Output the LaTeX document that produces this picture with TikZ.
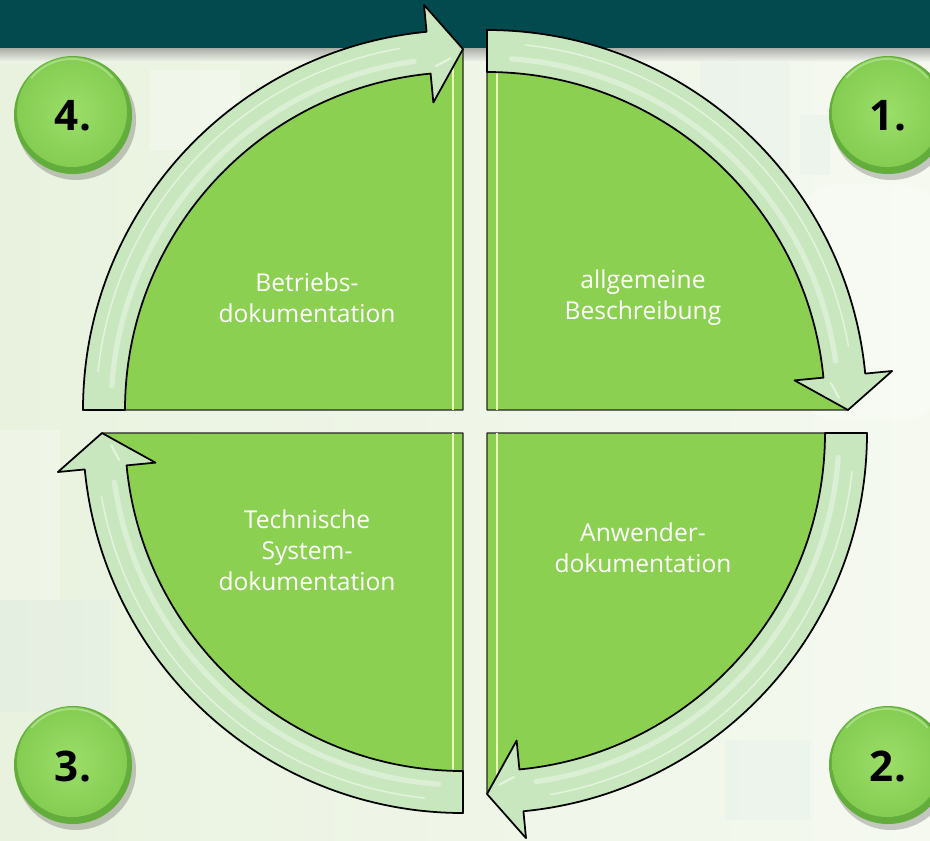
\documentclass[tikz,border=0pt]{standalone}
\usepackage{fontspec}
\setmainfont{Open Sans}
\definecolor{topband}{HTML}{034A4F}
\definecolor{bgL}{HTML}{E9F2DF}
\definecolor{bgR}{HTML}{F5F9F0}
\definecolor{sect}{HTML}{8CD052}
\definecolor{bandfill}{HTML}{C9E7BE}
\definecolor{ballrim}{HTML}{62AD3C}
\definecolor{ballin}{HTML}{9BDE69}
\definecolor{ballout}{HTML}{85CD52}
\definecolor{bevel}{HTML}{E9FBB8}
\definecolor{faintblue}{HTML}{DDEBE8}
\tikzset{
  sectorstyle/.style={fill=sect, draw=black!85, line width=0.8pt},
  bandstyle/.style={fill=bandfill, draw=black, line width=1pt},
  txt/.style={text=white, align=center, font=\fontsize{14}{17.6}\selectfont},
  numtxt/.style={text=black, font=\bfseries\fontsize{24}{28}\selectfont},
  bevelline/.style={draw=bevel, line width=1.4pt},
}
% #1 centre, #2 start angle, #3 bevel stripe x offset, #4 bevel stripe y end
\newcommand\drawsector[4]{%
  \begin{scope}[shift={#1}]
    \path[sectorstyle] (0,0) -- (#2:361) arc[start angle=#2, end angle=#2+90, radius=361] -- cycle;
    \begin{scope}
      \clip (0,0) -- (#2:361) arc[start angle=#2, end angle=#2+90, radius=361] -- cycle;
      \path[bevelline] (#3,0) -- (#3,#4);
    \end{scope}
  \end{scope}}
% #1 centre, #2 start angle
\newcommand\drawband[2]{%
  \begin{scope}[shift={#1}]
    \path[bandstyle] (#2:380) arc[start angle=#2, end angle=#2+84.5, radius=380]
      -- (#2+84.5:407) -- (#2+90:361) -- (#2+84.5:309) -- (#2+84.5:338)
      arc[start angle=#2+84.5, end angle=#2, radius=338] -- cycle;
    \draw[white, opacity=0.35, line width=3pt, line cap=round] (#2+4:352) arc[start angle=#2+4, end angle=#2+82, radius=352];
    \draw[white, opacity=0.5, line width=0.8pt, line cap=round] (#2+6:367) arc[start angle=#2+6, end angle=#2+80, radius=367];
    \draw[white, opacity=0.5, line width=1.2pt, line cap=round] (#2+85.5:345) -- (#2+88:352);
  \end{scope}}
% ball
\newcommand\drawball[4]{% #1 x, #2 y, #3 name, #4 text
  \fill[black, opacity=0.2] (#1+3,#2+5) circle[radius=60];
  \fill[ballrim] (#1,#2) circle[radius=59];
  \shade[inner color=ballin, outer color=ballout] (#1-1,#2-3) circle[radius=55];
  \draw[white, opacity=0.3, line width=1pt] (#1-1,#2-3) ++(-140:53) arc[start angle=-140, end angle=-40, radius=53];
  \node[numtxt] (#3) at (#1,#2+1) {#4};}
\begin{document}
\begin{tikzpicture}[x=0.02cm, y=-0.02cm, line join=round]
  \useasboundingbox (0,0) rectangle (930,840);
  \clip (0,0) rectangle (930,840);
  % background
  \shade[left color=bgL, right color=bgR] (0,0) rectangle (930,840);
  \fill[white, opacity=0.3] (150,70) rectangle (240,150);
  \fill[faintblue, opacity=0.3] (700,60) rectangle (790,180);
  \fill[white, opacity=0.3, rounded corners=20pt] (800,185) rectangle (940,420);
  \fill[faintblue, opacity=0.3] (0,600) rectangle (110,712);
  \fill[faintblue, opacity=0.3] (725,740) rectangle (810,820);
  \fill[white, opacity=0.25] (0,430) rectangle (60,600);
  \fill[faintblue, opacity=0.3] (800,115) rectangle (830,175);
  % top band
  \fill[topband] (0,0) rectangle (930,48);
  \shade[top color=black!50, bottom color=bgR, opacity=0.6] (0,48) rectangle (930,62);
  % sectors
  \drawsector{(487,410)}{-90}{10}{-361}
  \drawsector{(487,433)}{0}{10}{361}
  \drawsector{(463,433)}{90}{-10}{361}
  \drawsector{(463,410)}{180}{-10}{-361}
  % arrow bands
  \drawband{(487,410)}{-90}
  \drawband{(487,433)}{0}
  \drawband{(463,433)}{90}
  \drawband{(463,410)}{180}
  % texts
  \node[txt] (t1) at (643,298) {allgemeine\\Beschreibung};
  \node[txt] (t2) at (643,548) {Anwender-\\dokumentation};
  \node[txt] (t3) at (307,550) {Technische\\System-\\dokumentation};
  \node[txt] (t4) at (307,298) {Betriebs-\\dokumentation};
  % numbered balls
  \drawball{888}{115}{b1}{1.}
  \drawball{888}{765}{b2}{2.}
  \drawball{73}{765}{b3}{3.}
  \drawball{73}{115}{b4}{4.}
\end{tikzpicture}
\end{document}
